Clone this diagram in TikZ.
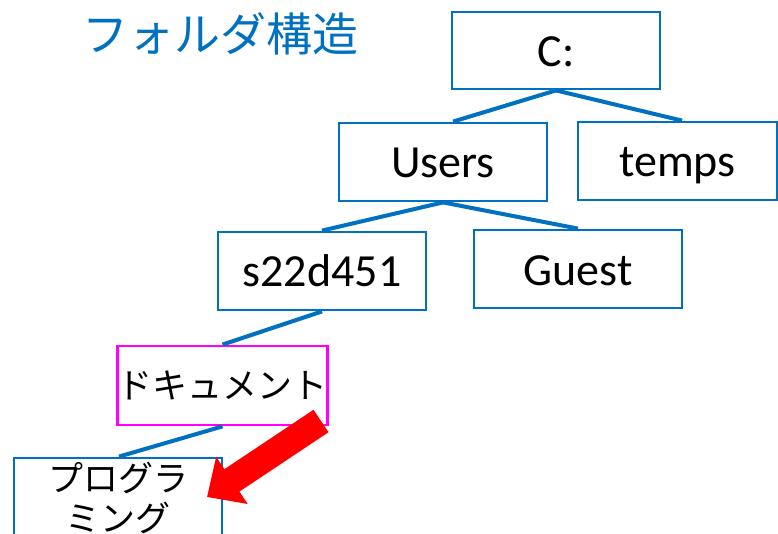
\documentclass[tikz,border=0pt]{standalone}
\usepackage{fontspec}
\setmainfont{Carlito}
\newfontfamily\jpfont{Noto Sans CJK JP}
\usetikzlibrary{arrows.meta}
\definecolor{boxblue}{RGB}{0,112,192}
\definecolor{docpink}{RGB}{255,0,255}
\tikzset{
  folder/.style={draw=boxblue, line width=2.8pt, minimum width=208pt, minimum height=78pt,
    inner sep=0pt, font=\fontsize{46}{52}\selectfont, text height=36pt, text depth=4pt},
  jpfolder/.style={draw=boxblue, line width=2.8pt, minimum width=208pt, minimum height=78pt,
    inner sep=0pt, font=\jpfont\fontsize{35}{40}\selectfont, align=center},
  link/.style={draw=boxblue, line width=4pt},
}
\begin{document}
\begin{tikzpicture}[x=1pt,y=-1pt]
\useasboundingbox (0,0) rectangle (778,534);
\clip (0,0) rectangle (778,534);
\fill[white] (0,0) rectangle (778,534);
\node[anchor=west, inner sep=0pt, text=boxblue, font=\jpfont\fontsize{46}{52}\selectfont,
  text height=40.5pt, text depth=5.5pt] (title) at (82,34) {フォルダ構造};
\node[folder, minimum height=77pt] (c) at (556,50.5) {C:};
\node[folder] (users) at (443,162) {Users};
\node[folder, minimum width=199pt] (temps) at (677.5,161) {temps};
\node[folder] (s22) at (322,271) {s22d451};
\node[folder] (guest) at (578,269) {Guest};
\node[jpfolder, draw=docpink, minimum width=209pt, minimum height=79pt,
  text height=30.8pt, text depth=4.2pt] (doc) at (222.5,385.5) {ドキュメント};
\node[jpfolder, minimum height=80pt] (prog) at (118,498) {プログラ\\ミング};
\draw[link] (c.south) -- ([xshift=10pt]users.north);
\draw[link] (c.south) -- ([xshift=4.5pt]temps.north);
\draw[link] (users.south) -- (s22.north);
\draw[link] (users.south) -- (guest.north);
\draw[link] (s22.south) -- (doc.north);
\draw[link] (doc.south) -- ([xshift=1pt]prog.north);
\coordinate (arrS) at (321,421);
\coordinate (arrT) at (207,497);
\draw[red, line width=27pt, -{Triangle[width=55pt,length=30pt]}] (arrS) -- (arrT);
\end{tikzpicture}
\end{document}
